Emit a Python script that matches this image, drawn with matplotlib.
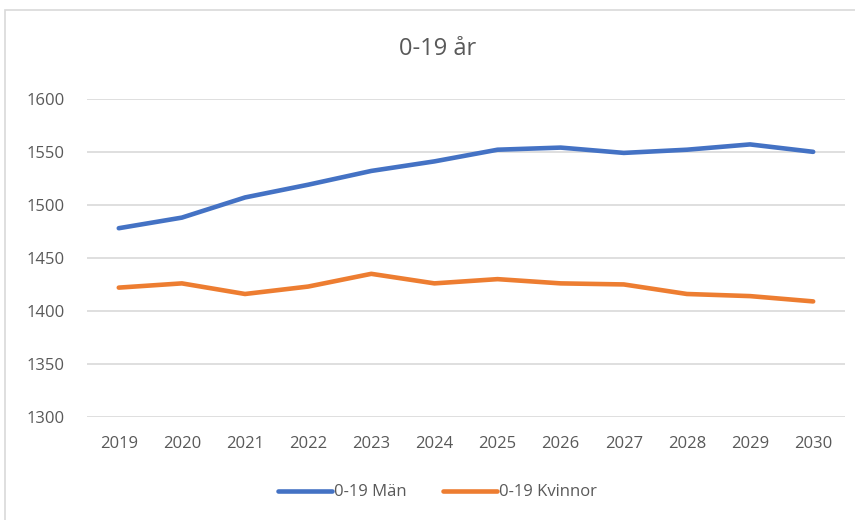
import matplotlib.pyplot as plt
from matplotlib.patches import Rectangle

# data
years = [2019, 2020, 2021, 2022, 2023, 2024, 2025, 2026, 2027, 2028, 2029, 2030]
man = [1478, 1488, 1507, 1519, 1532, 1541, 1552, 1554, 1549, 1552, 1557, 1550]
kvinnor = [1422, 1426, 1416, 1423, 1435, 1426, 1430, 1426, 1425, 1416, 1414, 1409]
yticks = [1300, 1350, 1400, 1450, 1500, 1550, 1600]

plt.rcParams['font.family'] = ['Open Sans', 'DejaVu Sans']
text_color = '#595959'

fig = plt.figure(figsize=(8.55, 5.2), dpi=100)
ax = fig.add_axes([0.102, 0.198, 0.886, 0.612])

# chart outer border
fig.patches.append(Rectangle((5 / 855, -0.01), 1.0, 1 - 10 / 520 + 0.01,
                             transform=fig.transFigure, fill=False,
                             edgecolor='#D9D9D9', linewidth=1.2))

x = list(range(len(years)))
ax.plot(x, man, color='#4472C4', linewidth=3.3, solid_capstyle='round', label='0-19 Män')
ax.plot(x, kvinnor, color='#ED7D31', linewidth=3.3, solid_capstyle='round', label='0-19 Kvinnor')

ax.set_xlim(-0.5, len(years) - 0.5)
ax.set_ylim(1300, 1600)
ax.set_yticks(yticks)
ax.set_xticks(x)
ax.set_xticklabels([str(y) for y in years])
ax.grid(axis='y', color='#D9D9D9', linewidth=1.2)
ax.set_axisbelow(True)
for s in ax.spines.values():
    s.set_visible(False)
ax.tick_params(length=0, labelsize=12, labelcolor=text_color)
ax.tick_params(axis='x', pad=14)
ax.tick_params(axis='y', pad=16)

fig.text(0.512, 0.905, '0-19 år', ha='center', va='center', fontsize=17, color=text_color)

fig.legend(loc='center', bbox_to_anchor=(0.512, 0.053), ncol=2, frameon=False,
           fontsize=12, labelcolor=text_color, handlelength=3.2, handletextpad=0.15,
           columnspacing=2.2)

fig.savefig('out.png', dpi=100)
